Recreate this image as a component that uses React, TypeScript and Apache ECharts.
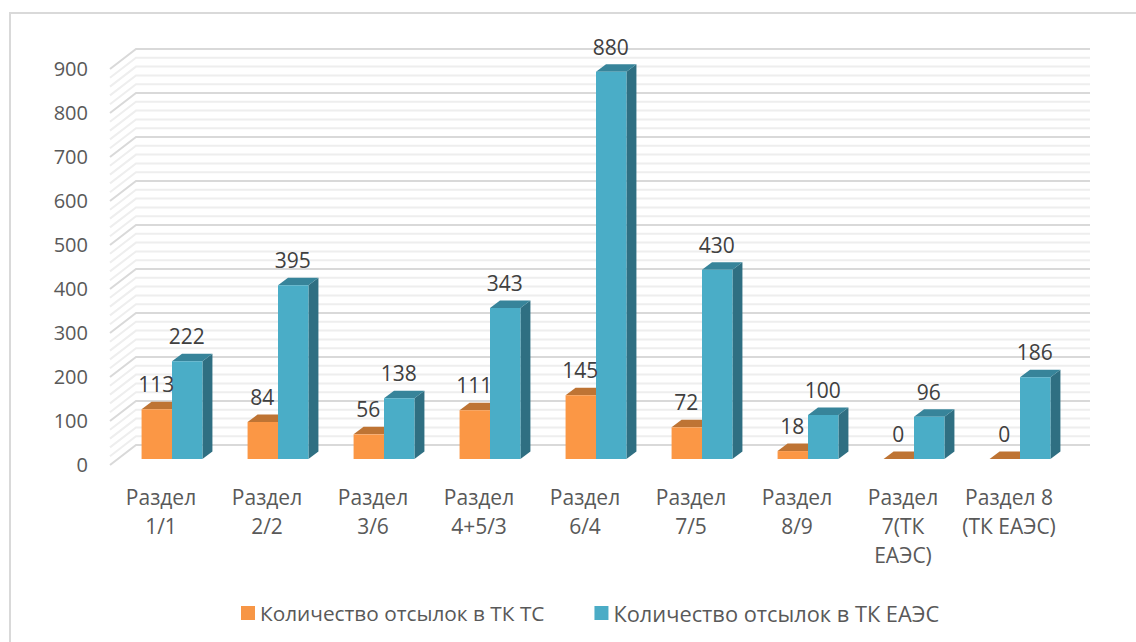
import React, { useEffect, useRef } from "react";
import * as echarts from "echarts";

const categories = [
  "Раздел\n1/1",
  "Раздел\n2/2",
  "Раздел\n3/6",
  "Раздел\n4+5/3",
  "Раздел\n6/4",
  "Раздел\n7/5",
  "Раздел\n8/9",
  "Раздел\n7(ТК\nЕАЭС)",
  "Раздел 8\n(ТК ЕАЭС)",
];
const seriesTsName = "Количество отсылок в ТК ТС";
const seriesEaesName = "Количество отсылок в ТК ЕАЭС";
const seriesTs = [113, 84, 56, 111, 145, 72, 18, 0, 0];
const seriesEaes = [222, 395, 138, 343, 880, 430, 100, 96, 186];
const majorTicks = [0, 100, 200, 300, 400, 500, 600, 700, 800, 900];
const minorOffsets = [20, 40, 60, 80];

const FONT = "'Open Sans', sans-serif";
const FLOOR = { frontX: 0, frontY: 0.5, backX: 26, backY: -19.5 };
const BAR = { dx: 9, dy: -5.5, depthX: 10, depthY: 7.5, widthRatio: 0.287 };

function wallItem(params: any, api: any) {
  const value = api.value(1);
  const major = api.value(2) === 1;
  const p = api.coord([0, value]);
  const left = params.coordSys.x;
  const right = left + params.coordSys.width;
  const style = { stroke: major ? "#d9d9d9" : "#eeeeee", lineWidth: 2, fill: "none" };
  return {
    type: "polyline",
    silent: true,
    shape: {
      points: [
        [left + FLOOR.frontX, p[1] + FLOOR.frontY],
        [left + FLOOR.backX, p[1] + FLOOR.backY],
        [right + FLOOR.backX, p[1] + FLOOR.backY],
      ],
    },
    style,
  };
}

function barItem(side: 0 | 1, front: string, top: string, right: string) {
  return (_params: any, api: any) => {
    const cat = api.value(0);
    const base = api.coord([cat, 0]);
    const head = api.coord([cat, api.value(1)]);
    const w = api.size([1, 0])[0] * BAR.widthRatio;
    const x0 = base[0] + BAR.dx + (side === 0 ? -w : 0);
    const x1 = x0 + w;
    const yb = base[1] + BAR.dy;
    const yt = head[1] + BAR.dy;
    const { depthX: dx, depthY: dy } = BAR;
    return {
      type: "group",
      children: [
        {
          type: "polygon",
          shape: { points: [[x1, yb], [x1 + dx, yb - dy], [x1 + dx, yt - dy], [x1, yt]] },
          style: { fill: right },
        },
        {
          type: "polygon",
          shape: { points: [[x0, yt], [x1, yt], [x1 + dx, yt - dy], [x0 + dx, yt - dy]] },
          style: { fill: top },
        },
        {
          type: "rect",
          shape: { x: x0, y: yt, width: w, height: yb - yt },
          style: { fill: front },
        },
      ],
    };
  };
}

function labelItem(side: 0 | 1) {
  return (_params: any, api: any) => {
    const cat = api.value(0);
    const value = api.value(1);
    const head = api.coord([cat, value]);
    const w = api.size([1, 0])[0] * BAR.widthRatio;
    const cx = head[0] + BAR.dx + (side === 0 ? -w / 2 : w / 2) - 0.5;
    return {
      type: "text",
      silent: true,
      style: {
        text: String(value),
        x: cx,
        y: head[1] + BAR.dy - 25,
        align: "center",
        verticalAlign: "middle",
        font: `21px ${FONT}`,
        fill: "#404040",
      },
    };
  };
}

export default function App() {
  const ref = useRef<HTMLDivElement>(null);
  useEffect(() => {
    const chart = echarts.init(ref.current!, null, { renderer: "svg" });
    const wallData: number[][] = [];
    majorTicks.forEach((t, i) => {
      wallData.push([0, t, 1]);
      if (i < majorTicks.length - 1) minorOffsets.forEach((m) => wallData.push([0, t + m, 0]));
    });
    const idx = (arr: number[]) => arr.map((v, i) => [i, v]);
    const custom = (extra: any) => ({
      type: "custom",
      coordinateSystem: "cartesian2d",
      clip: false,
      silent: true,
      encode: { x: 0, y: 1 },
      ...extra,
    });
    chart.setOption({
      animation: false,
      backgroundColor: "#ffffff",
      graphic: [
        {
          type: "rect",
          silent: true,
          z: -10,
          shape: { x: 10, y: 13, width: 1200, height: 700 },
          style: { fill: "none", stroke: "#d9d9d9", lineWidth: 2 },
        },
      ],
      grid: { left: 110, top: 68.5, width: 954, height: 396 },
      legend: {
        left: 241,
        top: 602,
        padding: 0,
        itemWidth: 14,
        itemHeight: 14,
        itemGap: 50,
        selectedMode: false,
        textStyle: { fontFamily: FONT, fontSize: 20.8, color: "#595959" },
        data: [
          { name: seriesTsName, icon: "rect", itemStyle: { color: "#F79646" } },
          {
            name: seriesEaesName,
            icon: "rect",
            itemStyle: { color: "#4BACC6" },
            textStyle: { fontFamily: FONT, fontSize: 21.8, color: "#595959" },
          },
        ],
      },
      xAxis: {
        type: "category",
        data: categories,
        axisLine: { show: false },
        axisTick: { show: false },
        splitLine: { show: false },
        axisLabel: {
          interval: 0,
          margin: 17.5,
          padding: [0, 4, 0, 0],
          fontFamily: FONT,
          fontSize: 21,
          lineHeight: 29,
          color: "#595959",
        },
      },
      yAxis: {
        type: "value",
        min: 0,
        max: 900,
        interval: 100,
        axisLine: { show: false },
        axisTick: { show: false },
        splitLine: { show: false },
        axisLabel: {
          margin: 22,
          fontFamily: FONT,
          fontSize: 20,
          color: "#595959",
        },
      },
      series: [
        custom({ name: "wall", data: wallData, renderItem: wallItem, z: 1 }),
        custom({
          name: seriesTsName,
          data: idx(seriesTs),
          itemStyle: { color: "#F79646" },
          renderItem: barItem(0, "#FB9745", "#BE7434", "#B96F30"),
          z: 2,
        }),
        custom({
          name: seriesEaesName,
          data: idx(seriesEaes),
          itemStyle: { color: "#4BACC6" },
          renderItem: barItem(1, "#4AADC7", "#37849A", "#2F6F82"),
          z: 3,
        }),
        custom({ name: "labels-ts", data: idx(seriesTs), renderItem: labelItem(0), z: 4 }),
        custom({ name: "labels-eaes", data: idx(seriesEaes), renderItem: labelItem(1), z: 4 }),
      ],
    });
    return () => chart.dispose();
  }, []);
  return (
    <div
      ref={ref}
      style={{ position: "fixed", left: 0, top: 0, width: 1136, height: 642 }}
    />
  );
}
